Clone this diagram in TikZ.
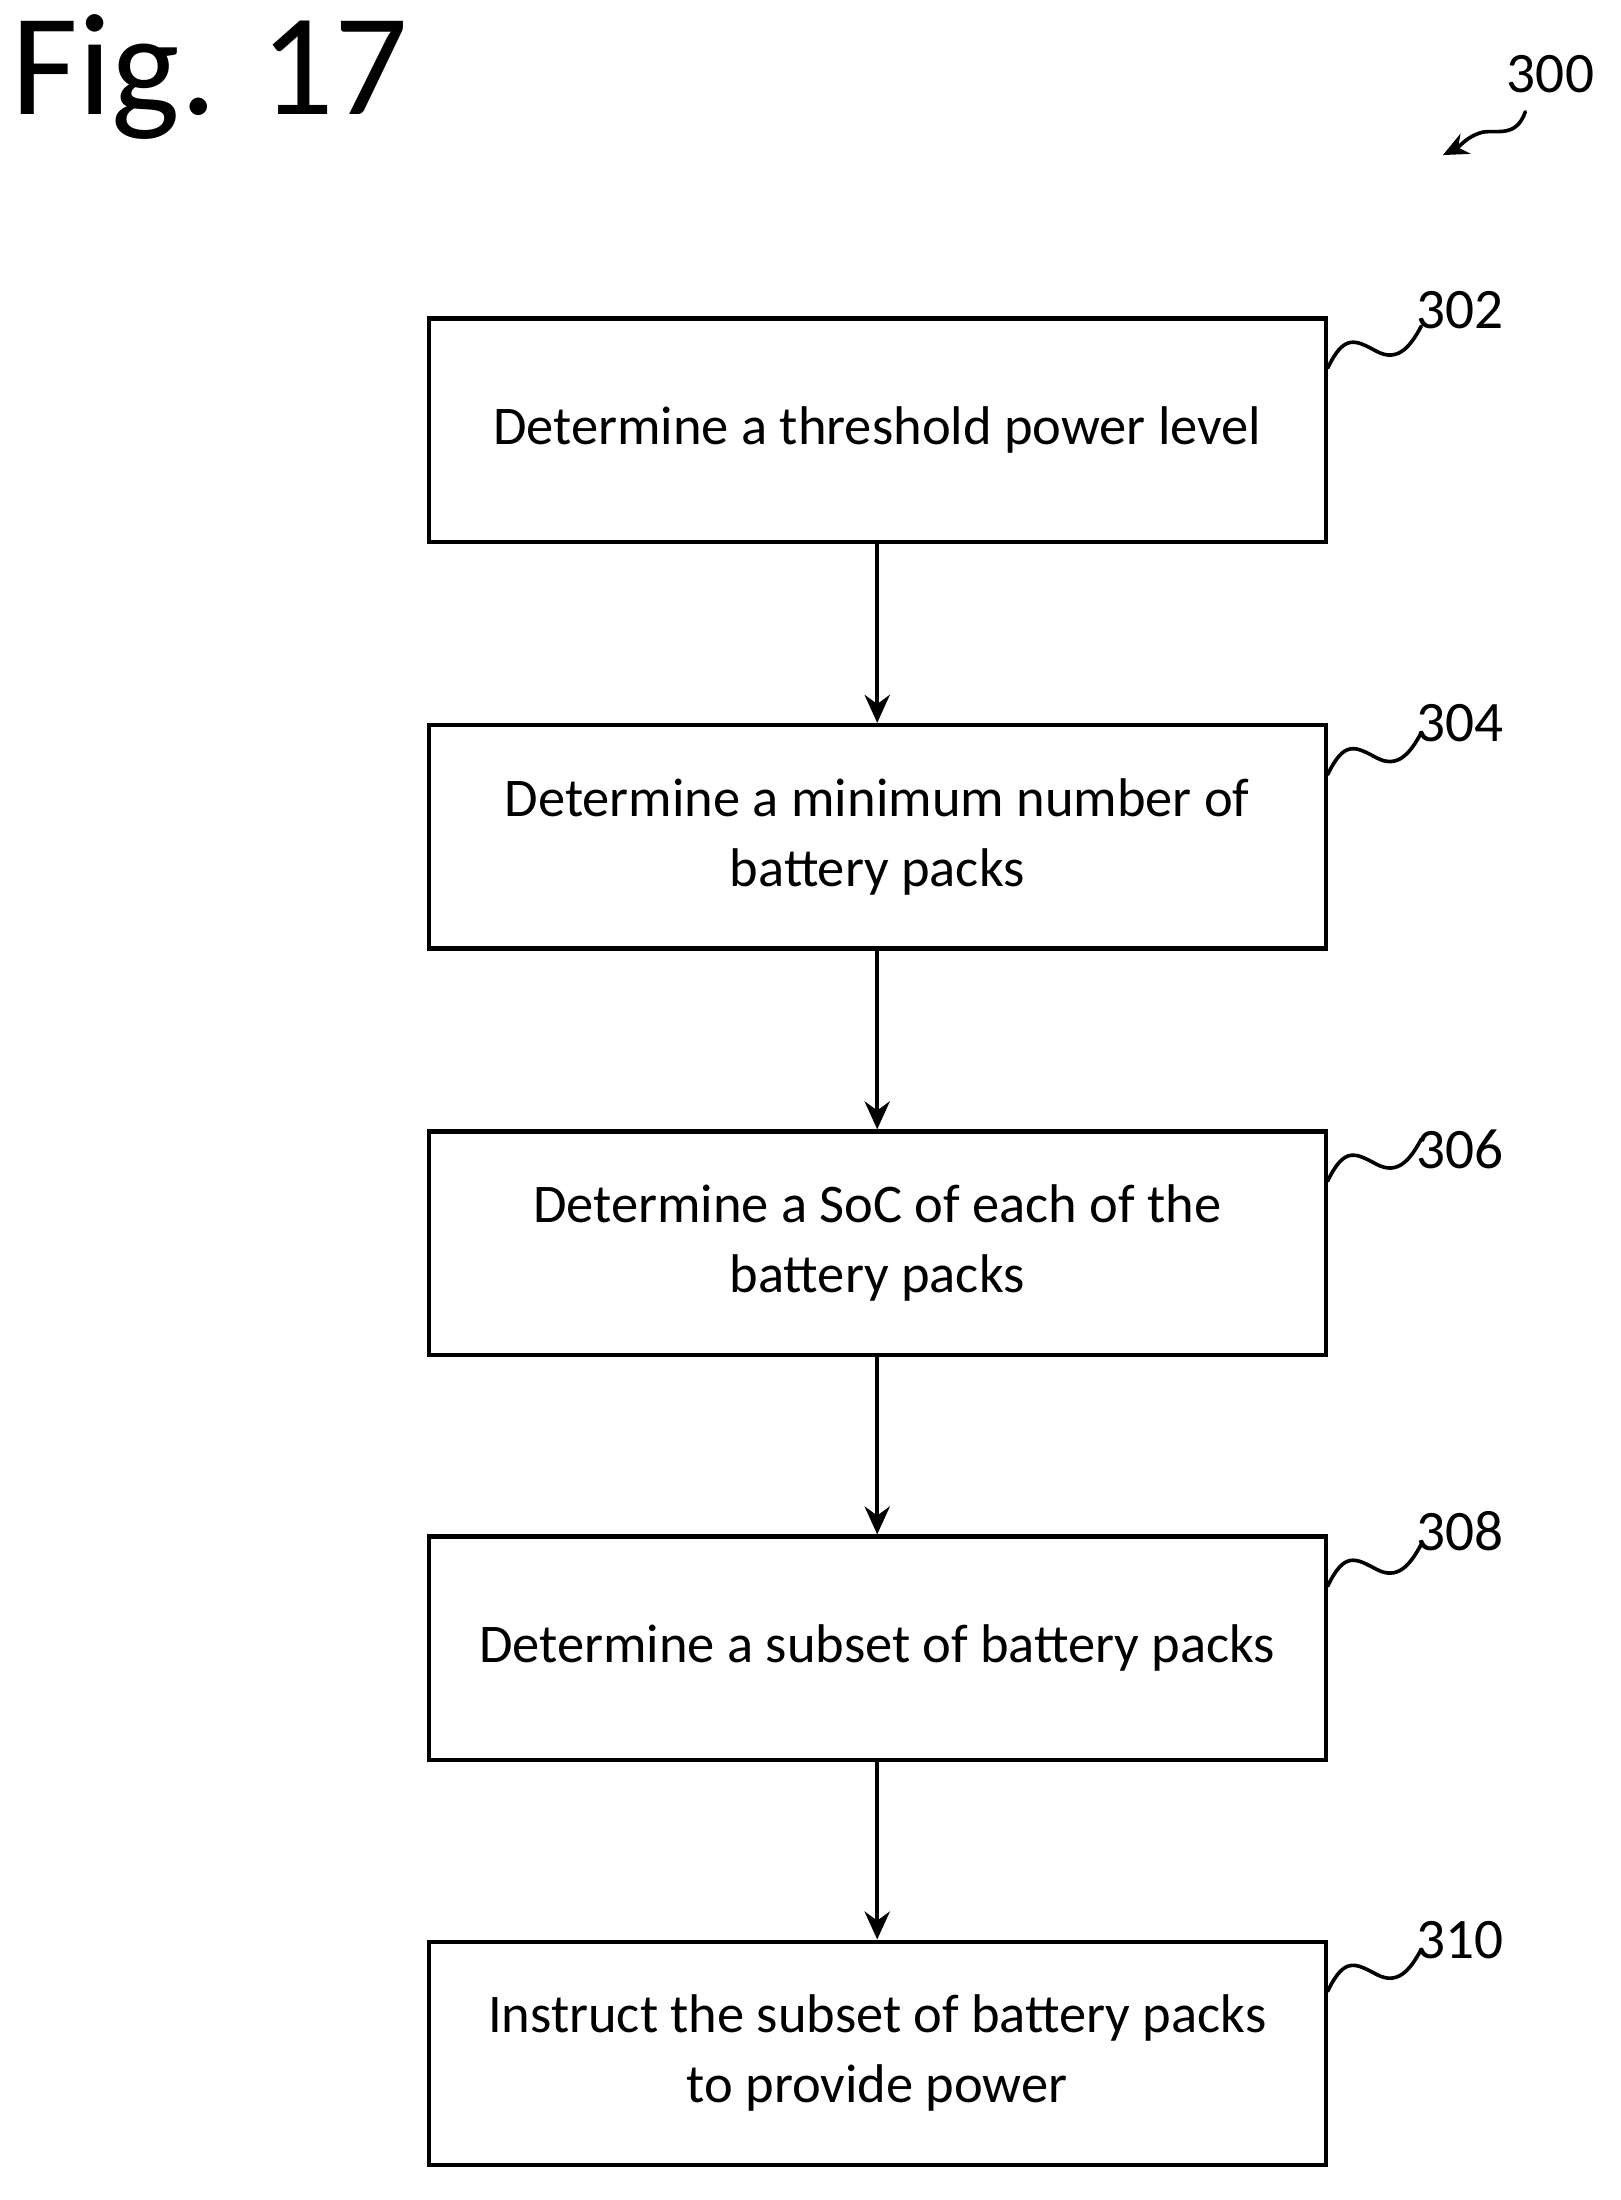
\documentclass[tikz,border=0pt]{standalone}
\usepackage{fontspec}
\setmainfont{Carlito}
\usetikzlibrary{arrows.meta, positioning}
\tikzset{
  stepbox/.style={draw, line width=1.5pt, minimum width=321pt, minimum height=80pt,
    align=center, font=\fontsize{19.5}{25}\selectfont, inner sep=0pt},
  flow/.style={line width=1.5pt, -{Stealth[length=10pt, width=9pt]}},
  ref/.style={font=\fontsize{20.5}{22}\selectfont, inner sep=0pt},
  squig/.style={line width=1.3pt}
}
\begin{document}
\begin{tikzpicture}[x=0.5pt, y=-0.5pt, line cap=round]
	\useasboundingbox (0,0) rectangle (1160,1575);

	\node[anchor=north west, inner sep=0pt, font=\fontsize{52}{54}\selectfont] (fig) at (8,10) {Fig. 17};

	% steps
	\node[stepbox] (s302) at (628,308) {Determine a threshold power level};
	\node[stepbox] (s304) at (628,599) {Determine a minimum number of\\battery packs};
	\node[stepbox] (s306) at (628,890) {Determine a SoC of each of the\\battery packs};
	\node[stepbox] (s308) at (628,1180) {Determine a subset of battery packs};
	\node[stepbox] (s310) at (628,1470) {Instruct the subset of battery packs\\to provide power};

	\draw[flow] (s302) -- (s304);
	\draw[flow] (s304) -- (s306);
	\draw[flow] (s306) -- (s308);
	\draw[flow] (s308) -- (s310);

	% reference numerals
	\foreach \n/\y in {302/222, 304/518, 306/823, 308/1096, 310/1389} {
		\node[ref] (l\n) at (1045,\y) {\n};
		\draw[squig] (s\n.north east) ++(0,37) .. controls +(12,-25) and +(-15,-8) .. ++(35,-12)
			.. controls +(15,8) and +(-8,15) .. ++(32,-18);
	}

	\node[ref] (l300) at (1110,53) {300};
	\coordinate (t300) at (1033,111);
	\draw[squig, -{Stealth[length=9pt, width=8pt]}] (1092,80) .. controls (1085,100) and (1070,92) .. (1060,95)
		.. controls (1050,98) and (1045,105) .. (t300);
\end{tikzpicture}
\end{document}
